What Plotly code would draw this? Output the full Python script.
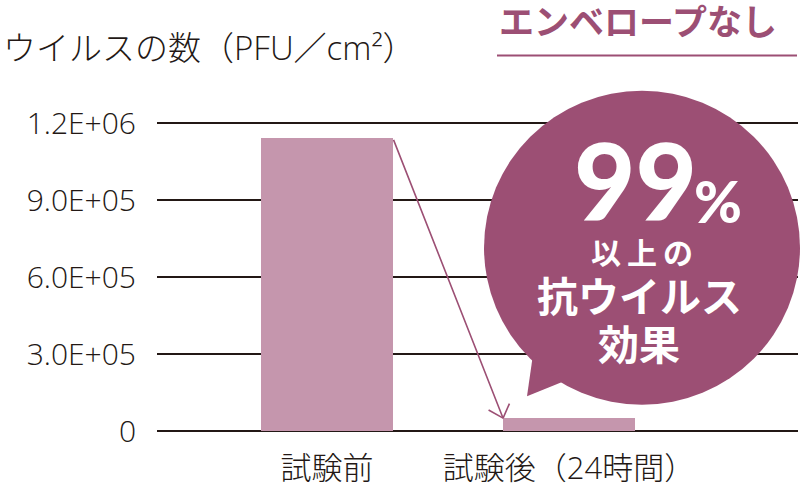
import plotly.graph_objects as go

# ---- data ----
categories = ["試験前", "試験後（24時間）"]
values = [1140000, 50000]
tick_vals = [0, 300000, 600000, 900000, 1200000]
tick_text = ["0", "3.0E+05", "6.0E+05", "9.0E+05", "1.2E+06"]

# ---- styling ----
W, H = 803, 493
ML, MR, MT, MB = 157, 5, 121, 59
BAR_COLOR = "#c596ad"
ACCENT = "#9c4f74"
TEXT = "#231815"
JP = "Noto Sans CJK JP, Noto Sans, sans-serif"
LIGHT = "Open Sans, Noto Sans CJK JP, sans-serif"
BAR_W = 0.545

PW = W - ML - MR
PH = H - MT - MB


def px(x):
    return (x - ML) / PW


def py(y):
    return (H - MB - y) / PH


fig = go.Figure()
fig.add_trace(go.Bar(
    x=categories, y=values, width=BAR_W,
    marker=dict(color=BAR_COLOR, line=dict(width=0)),
    hoverinfo="skip",
))

annotations = []
# title
annotations.append(dict(
    xref="paper", yref="paper", x=px(1), y=py(47), xanchor="left", yanchor="middle",
    text="ウイルスの数（PFU／cm²）", showarrow=False,
    font=dict(family=LIGHT, size=33, color=TEXT, weight=300)))
# header
annotations.append(dict(
    xref="paper", yref="paper", x=px(638), y=py(19), xanchor="center", yanchor="middle",
    text="<b>エンベロープなし</b>", showarrow=False,
    font=dict(family=JP, size=35, color=ACCENT)))
# arrow from bar1 top-right to bar2 top-left
tip_x = 1 - BAR_W / 2
tip_y = values[1]
annotations.append(dict(
    xref="x", yref="y", axref="x", ayref="y",
    x=tip_x, y=tip_y, ax=0 + BAR_W / 2, ay=values[0],
    text="", showarrow=True, arrowhead=0, arrowwidth=1.6, arrowcolor=ACCENT,
    standoff=0, startstandoff=0))
for (dx, dy) in [(-16, -9), (7, -16)]:
    annotations.append(dict(
        xref="x", yref="y", x=tip_x, y=tip_y, ax=dx, ay=dy,
        text="", showarrow=True, arrowhead=0, arrowwidth=1.6, arrowcolor=ACCENT,
        standoff=0, startstandoff=0))
# bubble texts
annotations.append(dict(
    xref="paper", yref="paper", x=px(635), y=py(180), xanchor="center", yanchor="middle",
    text="99", showarrow=False,
    font=dict(family="Lato, Noto Sans, sans-serif", size=106, color="white", weight=900)))
annotations.append(dict(
    xref="paper", yref="paper", x=px(718), y=py(201), xanchor="center", yanchor="middle",
    text="%", showarrow=False,
    font=dict(family="Lato, Noto Sans, sans-serif", size=58, color="white", weight=900)))
annotations.append(dict(
    xref="paper", yref="paper", x=px(642), y=py(252), xanchor="center", yanchor="middle",
    text="<b>以\u2009上\u2009の</b>", showarrow=False,
    font=dict(family=JP, size=30, color="white")))
annotations.append(dict(
    xref="paper", yref="paper", x=px(639), y=py(295), xanchor="center", yanchor="middle",
    text="<b>抗ウイルス</b>", showarrow=False,
    font=dict(family=JP, size=41, color="white")))
annotations.append(dict(
    xref="paper", yref="paper", x=px(639), y=py(343), xanchor="center", yanchor="middle",
    text="<b>効果</b>", showarrow=False,
    font=dict(family=JP, size=41, color="white")))

shapes = [
    # header underline
    dict(type="line", xref="paper", yref="paper", x0=px(497), x1=px(797), y0=py(55), y1=py(55),
         line=dict(color=ACCENT, width=2)),
    # bubble circle
    dict(type="circle", xref="paper", yref="paper", layer="above",
         x0=px(484), x1=px(800), y0=py(406.5), y1=py(90.5),
         fillcolor=ACCENT, line=dict(width=0)),
    # bubble tail
    dict(type="path", xref="paper", yref="paper", layer="above",
         path=f"M{px(533)},{py(356)} L{px(527)},{py(398)} L{px(564)},{py(383)} Z",
         fillcolor=ACCENT, line=dict(width=0)),
]

fig.update_layout(
    width=W, height=H,
    margin=dict(l=ML, r=MR, t=MT, b=MB, pad=0),
    paper_bgcolor="white", plot_bgcolor="white",
    showlegend=False,
    bargap=0,
    annotations=annotations,
    shapes=shapes,
    xaxis=dict(
        type="category", range=[-0.7025, 1.946],
        showgrid=False, showline=False, zeroline=False, ticks="",
        ticklabelstandoff=15,
        tickfont=dict(family=LIGHT, size=31, color=TEXT, weight=300),
        fixedrange=True,
    ),
    yaxis=dict(
        range=[-3900, 1207800],
        tickvals=tick_vals, ticktext=tick_text,
        showgrid=True, gridcolor=TEXT, gridwidth=2,
        zeroline=True, zerolinecolor=TEXT, zerolinewidth=2,
        showline=False, ticks="",
        ticklabelstandoff=20,
        tickfont=dict(family=LIGHT, size=30, color=TEXT, weight=300),
        fixedrange=True,
    ),
)

fig.write_html(
    "out.html",
    config={"displayModeBar": False},
    post_script="document.body.style.margin='0px';document.body.style.overflow='hidden';",
)
